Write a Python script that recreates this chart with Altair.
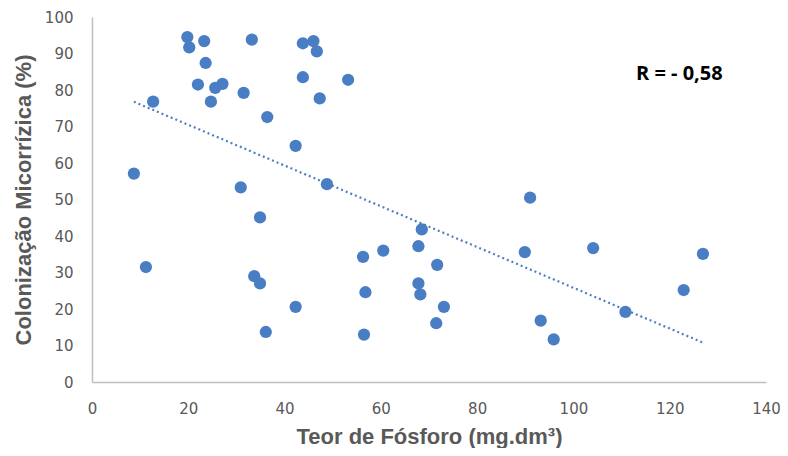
import altair as alt
import pandas as pd

fosforo = [19.8, 20.2, 23.3, 23.6, 22.0, 25.6, 27.1, 24.7, 12.7, 8.7,
           33.2, 31.5, 36.4, 30.9, 42.3, 43.8, 46.0, 46.7, 43.8, 47.3,
           53.2, 48.8, 34.9, 11.2, 33.7, 34.9, 42.3, 36.1, 56.3, 60.5,
           56.8, 56.5, 68.5, 67.8, 71.7, 67.8, 68.2, 73.1, 71.5, 89.9,
           104.1, 126.9, 122.9, 93.2, 95.9, 110.8, 91.0]
colonizacao = [94.5, 91.7, 93.4, 87.4, 81.5, 80.6, 81.7, 76.8, 76.8, 57.1,
               93.8, 79.2, 72.6, 53.3, 64.7, 92.8, 93.4, 90.6, 83.5, 77.7,
               82.8, 54.2, 45.1, 31.5, 29.0, 27.0, 20.6, 13.7, 34.3, 36.0,
               24.6, 13.0, 41.8, 37.2, 32.1, 27.0, 24.0, 20.6, 16.1, 35.6,
               36.7, 35.1, 25.2, 16.8, 11.7, 19.2, 50.5]

x_ticks = [0, 20, 40, 60, 80, 100, 120, 140]
y_ticks = [0, 10, 20, 30, 40, 50, 60, 70, 80, 90, 100]

annot_text = ["R = - 0,58"]
annot_x = [113.0]
annot_y = [84.4]

df = pd.DataFrame({"P": fosforo, "C": colonizacao})
ann = pd.DataFrame({"x": annot_x, "y": annot_y, "t": annot_text})

xs = alt.Scale(domain=[0, 140], nice=False, zero=False)
ys = alt.Scale(domain=[0, 100], nice=False, zero=False)

x_axis = alt.Axis(values=x_ticks, grid=False, ticks=False, domainColor="#BFBFBF",
                  domainWidth=1.5, labelFont="DejaVu Sans", labelFontSize=15,
                  labelColor="#595959", labelPadding=19, labelOverlap=False,
                  labelFlush=False,
                  title="Teor de Fósforo (mg.dm³)", titleFont="Liberation Sans",
                  titleFontSize=22, titleFontWeight="bold", titleColor="#595959",
                  titlePadding=10)
y_axis = alt.Axis(values=y_ticks, grid=False, ticks=False, domainColor="#BFBFBF",
                  domainWidth=1.5, labelFont="DejaVu Sans", labelFontSize=15,
                  labelColor="#595959", labelPadding=19, labelOverlap=False,
                  labelFlush=False,
                  title="Colonização Micorrízica (%)", titleFont="Liberation Sans",
                  titleFontSize=22, titleFontWeight="bold", titleColor="#595959",
                  titlePadding=9)

base = alt.Chart(df)

points = base.mark_circle(size=150, opacity=1, color="#4A7EC4").encode(
    x=alt.X("P:Q", scale=xs, axis=x_axis),
    y=alt.Y("C:Q", scale=ys, axis=y_axis),
)

trend = base.transform_regression("P", "C").mark_line(
    color="#4F7FBF", strokeWidth=2.2, strokeDash=[2, 3]
).encode(
    x=alt.X("P:Q", scale=xs, axis=x_axis),
    y=alt.Y("C:Q", scale=ys, axis=y_axis),
)

text = alt.Chart(ann).mark_text(
    font="Open Sans", fontWeight="bold", fontSize=20, color="#000000", align="left",
    baseline="middle"
).encode(
    x=alt.X("x:Q", scale=xs, axis=x_axis),
    y=alt.Y("y:Q", scale=ys, axis=y_axis),
    text="t:N",
)

chart = alt.layer(trend, points, text).properties(
    width=674, height=365,
    autosize=alt.AutoSizeParams(type="none"),
    padding={"left": 84, "top": 9, "right": 14, "bottom": 66},
).configure_view(stroke=None)

chart.save("out.html", embed_options={"renderer": "svg", "actions": False})
